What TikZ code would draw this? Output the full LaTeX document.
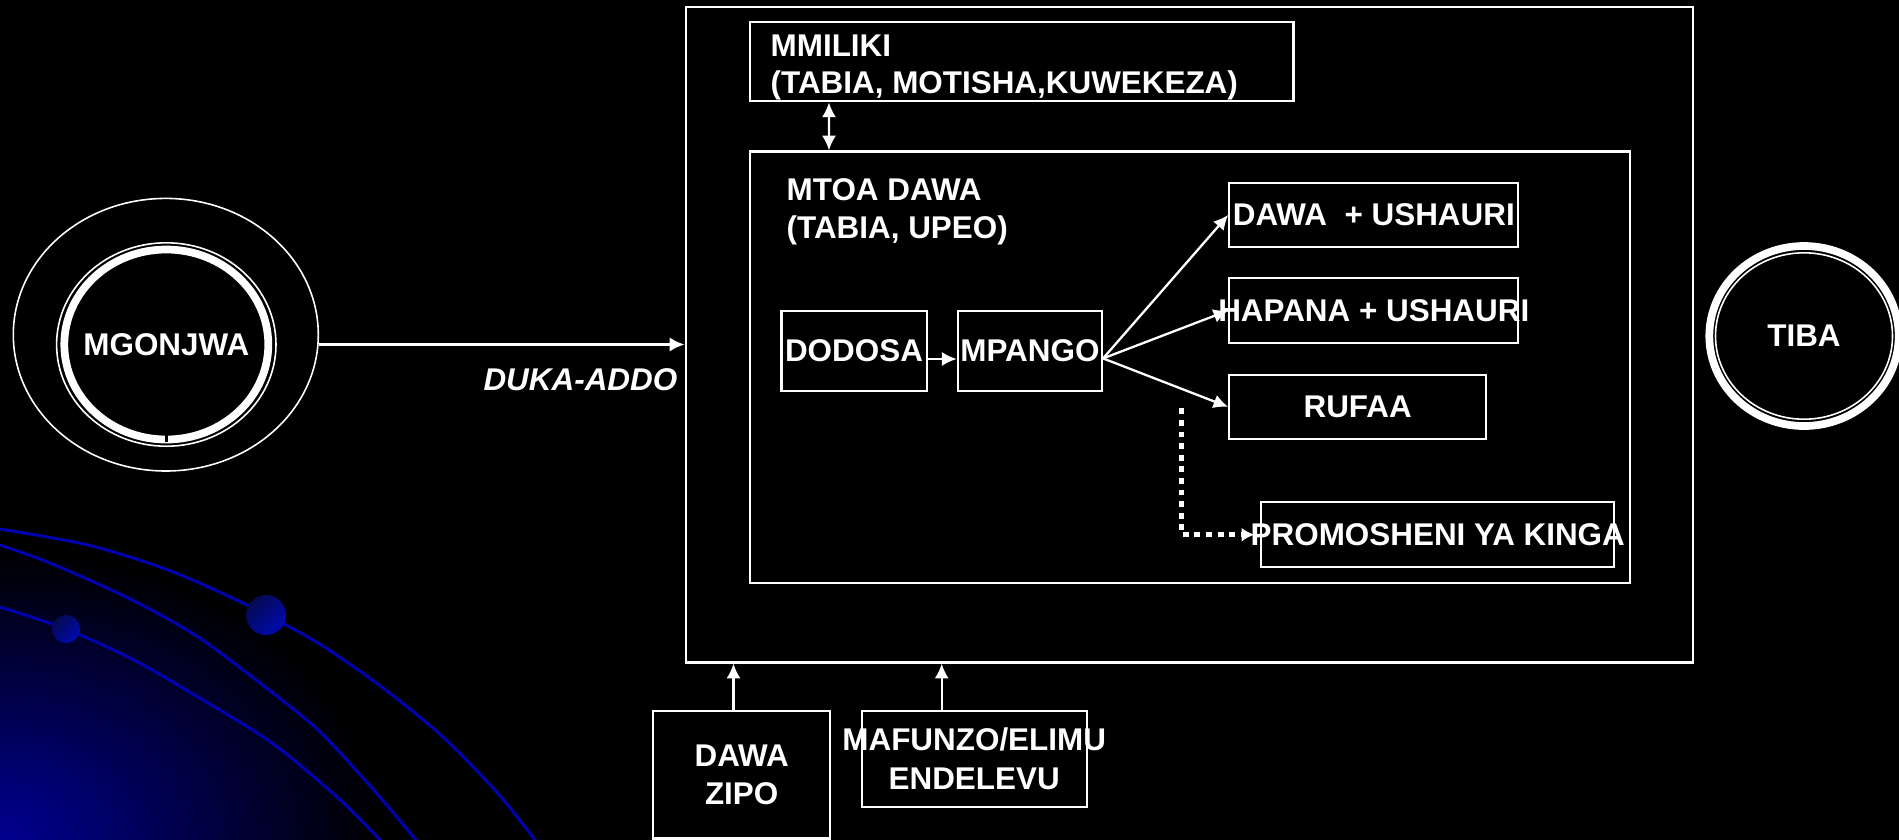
\documentclass[tikz,border=0pt]{standalone}
\usepackage{fontspec}
\setmainfont{Liberation Sans}
\usetikzlibrary{shapes.geometric,arrows.meta}
\newcommand{\lblfont}{\fontsize{8.94}{10.9}\selectfont\bfseries}
\definecolor{curveblue}{RGB}{0,0,175}
\definecolor{glowblue}{RGB}{0,0,145}
\definecolor{balldark}{RGB}{5,10,80}
\definecolor{balllight}{RGB}{0,10,175}

\begin{document}
\begin{tikzpicture}[x=1cm,y=-1cm,
  box/.style={draw=white,line width=0.6pt,inner sep=0pt,text=white,font=\lblfont,align=center},
  lbl/.style={inner sep=0pt,text=white,font=\lblfont},
  oval/.style={ellipse,draw=white,line width=0.45pt,inner sep=0pt},
  conn/.style={white,line width=0.65pt,-{Latex[length=4.2pt,width=4pt]}},
  orbit/.style={curveblue,line width=0.85pt}]
\useasboundingbox (0,0) rectangle (18.99,8.39);
\fill[black] (-0.2,-0.2) rectangle (19.2,8.6);
% blue glow and orbits, bottom left
\begin{scope}
\clip (-0.2,-0.2) rectangle (19.2,8.6);
\shade[inner color=glowblue,outer color=black] (0,8.39) ellipse (3.8 and 2.9);
\draw[orbit] plot[smooth] coordinates {(0,5.29) (0.88,5.45) (1.68,5.70) (2.47,6.05) (3.18,6.43) (3.83,6.88) (4.44,7.38) (5.01,7.97) (5.50,8.60)};
\draw[orbit] plot[smooth] coordinates {(0,5.45) (0.50,5.63) (1.26,5.97) (1.95,6.35) (2.60,6.83) (3.18,7.30) (3.71,7.87) (4.15,8.39) (4.30,8.60)};
\draw[orbit] plot[smooth] coordinates {(0,6.07) (0.66,6.29) (1.34,6.60) (2.03,7.00) (2.72,7.43) (3.37,7.97) (3.79,8.39) (3.95,8.60)};
\shade[top color=balldark,bottom color=balllight,shading angle=45] (2.66,6.15) circle (0.20);
\shade[top color=balldark,bottom color=balllight,shading angle=45] (0.66,6.29) circle (0.14);
\end{scope}

% mgonjwa
\node[oval,minimum width=3.05cm,minimum height=2.726cm] (client) at (1.658,3.347) {};
\node[lbl] (mgonjwa) at (1.663,3.445) {MGONJWA};
\draw[white,line width=0.45pt] (mgonjwa.center) ellipse (1.097 and 1.017);
\draw[white,line width=2.2pt] (mgonjwa.center) ellipse (1.02 and 0.95);
\fill[black] (mgonjwa.center) ++(-0.012,0.905) rectangle ++(0.024,0.065);

% tiba
\node[lbl] (tiba) at (18.04,3.36) {TIBA};
\draw[white,line width=2.2pt] (tiba.center) ellipse (0.947 and 0.90);
\draw[white,line width=0.45pt] (tiba.center) ellipse (0.885 and 0.832);

% duka la dawa
\node[box,minimum width=10.075cm,minimum height=6.552cm] (duka) at (11.893,3.349) {};
\node[lbl,font=\lblfont\itshape,anchor=east] (dukalbl) at (6.78,3.80) {DUKA-ADDO};
\draw[conn] (mgonjwa -| client.east) -- (mgonjwa -| duka.west);

\node[box,minimum width=5.438cm,minimum height=0.792cm] (mmiliki) at (10.216,0.617) {};
\node[lbl,font=\fontsize{8.94}{10.7}\selectfont\bfseries,anchor=west,align=left] (mmilikitxt) at (7.70,0.675) {MMILIKI\\(TABIA, MOTISHA,KUWEKEZA)};
\node[box,minimum width=8.803cm,minimum height=4.313cm] (mtoa) at (11.899,3.671) {};
\node[lbl,anchor=west,align=left] (mtoatxt) at (7.86,2.12) {MTOA DAWA\\(TABIA, UPEO)};
\draw[conn,{Latex[length=4.2pt,width=4pt]}-{Latex[length=4.2pt,width=4pt]}] ([xshift=0.803cm]mmiliki.south west) -- ([xshift=0.803cm]mtoa.north west);

\node[box,minimum width=1.451cm,minimum height=0.80cm] (dodosa) at (8.540,3.507) {DODOSA};
\node[box,minimum width=1.442cm,minimum height=0.80cm] (mpango) at (10.299,3.507) {MPANGO};
\draw[conn] ([yshift=-0.083cm]dodosa.east) -- ([yshift=-0.083cm]mpango.west);

\node[box,minimum width=2.89cm,minimum height=0.643cm] (dawa) at (13.738,2.149) {DAWA\ \ + USHAURI};
\node[box,minimum width=2.89cm,minimum height=0.644cm] (hapana) at (13.738,3.105) {\makebox[0pt]{HAPANA + USHAURI}};
\node[box,minimum width=2.567cm,minimum height=0.637cm] (rufaa) at (13.577,4.069) {RUFAA};
\node[box,minimum width=3.53cm,minimum height=0.647cm] (promo) at (14.378,5.347) {\makebox[0pt]{PROMOSHENI YA KINGA}};
\draw[conn] ([yshift=-0.077cm]mpango.east) -- (dawa.west);
\draw[conn] ([yshift=-0.077cm]mpango.east) -- (hapana.west);
\draw[conn] ([yshift=-0.077cm]mpango.east) -- (rufaa.west);
\coordinate (dotstart) at (11.817,4.083);
\draw[white,line width=1.5pt,dash pattern=on 1.7pt off 1.6pt,-{Latex[length=3.6pt,width=4pt]}] (dotstart) |- ([xshift=-0.06cm]promo.west);

% pembejeo
\node[box,minimum width=1.767cm,minimum height=1.278cm] (zipo) at (7.417,7.746) {DAWA\\ZIPO};
\node[box,minimum width=2.25cm,minimum height=0.96cm] (mafunzo) at (9.742,7.587) {\makebox[0pt]{MAFUNZO/ELIMU}\\ENDELEVU};
\draw[conn] ([xshift=-0.082cm]zipo.north) -- ([xshift=-0.082cm]zipo.north |- duka.south);
\draw[conn] ([xshift=-0.325cm]mafunzo.north) -- ([xshift=-0.325cm]mafunzo.north |- duka.south);
\end{tikzpicture}
\end{document}
